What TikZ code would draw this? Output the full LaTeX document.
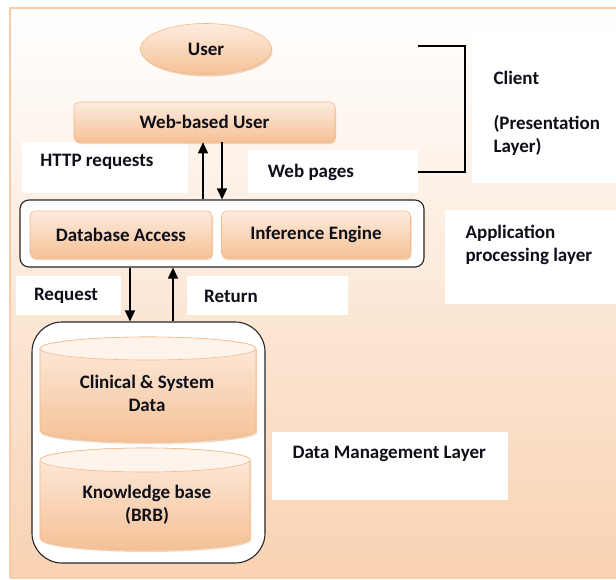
\documentclass[tikz,border=0pt]{standalone}
\usepackage{fontspec}
\setmainfont{Carlito}
\usetikzlibrary{shadows,arrows.meta,shapes.geometric}
\definecolor{peach}{RGB}{249,210,178}
\definecolor{frameor}{RGB}{250,205,170}
\definecolor{boxtop}{RGB}{253,236,223}
\definecolor{boxbot}{RGB}{245,193,150}
\definecolor{boxline}{RGB}{240,185,140}
\definecolor{txt}{RGB}{15,15,25}
\tikzset{
  lbl/.style={font=\fontsize{19}{23}\selectfont\bfseries, text=txt},
  whitebox/.style={fill=white, draw=none},
  obox/.style={rounded corners=5pt, draw=boxline, line width=0.6pt, top color=boxtop, bottom color=boxbot,
     drop shadow={shadow xshift=1pt, shadow yshift=-2pt, fill=boxbot!75!brown, opacity=0.55},
     lbl, inner sep=0pt},
  layerbox/.style={draw=black!85, line width=1.1pt, fill=white},
  arr/.style={-{Triangle[length=11pt,width=10pt]}, line width=1.3pt, black},
}
\begin{document}
\begin{tikzpicture}[x=1pt,y=-1pt]
\useasboundingbox (0,0) rectangle (616,579);
% background
\shade[top color=white, bottom color=peach] (10,8) rectangle (618,578);
\draw[frameor, line width=1.5pt] (10,578) -- (10,8) -- (618,8);
\draw[frameor, line width=1.5pt] (10,578) -- (618,578);

% white label boxes
\node[whitebox, minimum width=166pt, minimum height=51pt] (httpbox) at (105,167.5) {};
\node[whitebox, minimum width=170pt, minimum height=43pt] (wpbox) at (333,171.5) {};
\node[whitebox, minimum width=146pt, minimum height=155pt] (clbox) at (545,105.5) {};
\node[whitebox, minimum width=173pt, minimum height=94pt] (apbox) at (531.5,257) {};
\node[whitebox, minimum width=105pt, minimum height=39pt] (reqbox) at (68.5,295.5) {};
\node[whitebox, minimum width=161pt, minimum height=39pt] (retbox) at (267.5,295.5) {};
\node[whitebox, minimum width=236pt, minimum height=68pt] (dmbox) at (390,466) {};

% labels
\node[lbl] (http) at (97,162) {HTTP requests};
\node[lbl] (wp) at (311,172) {Web pages};
\node[lbl, anchor=west] (client) at (490,78) {Client};
\node[lbl, anchor=west, align=left] (pres) at (490,135) {(Presentation\\Layer)};
\node[lbl, anchor=west, align=left] (appl) at (462,245) {Application\\processing layer};
\node[lbl] (req) at (66,296) {Request};
\node[lbl] (ret) at (231,296) {Return};
\node[lbl, anchor=west] (dml) at (289,454) {Data Management Layer};

% bracket
\coordinate (bt) at (418,46);
\coordinate (bb) at (418,172);
\draw[black, line width=1.1pt] (bt) -- (465,46) -- (465,172) -- (bb);

% user
\node[ellipse, draw=boxline, line width=0.6pt, top color=boxtop, bottom color=boxbot, minimum width=131pt, minimum height=51pt, lbl,
  drop shadow={shadow xshift=1pt, shadow yshift=-2pt, fill=boxbot!75!brown, opacity=0.55}] (user) at (206,49) {User};

% web-based user
\node[obox, minimum width=261pt, minimum height=40pt] (web) at (204.5,122) {Web-based User};

% application layer
\node[layerbox, rounded corners=9pt, minimum width=404pt, minimum height=67pt] (app) at (222,233.5) {};
\node[obox, minimum width=182pt, minimum height=47pt] (db) at (121,234.5) {Database Access};
\node[obox, minimum width=189pt, minimum height=47pt] (ie) at (316,234.5) {Inference Engine};

% data layer
\node[layerbox, rounded corners=30pt, minimum width=233pt, minimum height=241pt] (data) at (148.5,442.5) {};

% cylinders
\shade[top color=boxtop, bottom color=boxbot, draw=boxline, line width=0.6pt,
  drop shadow={shadow xshift=1pt, shadow yshift=-2pt, fill=boxbot!75!brown, opacity=0.55}]
  (40,348.5) -- (40,430.5) arc[start angle=180,end angle=0,x radius=108,y radius=11.5]
  -- (256,348.5) arc[start angle=0,end angle=-180,x radius=108,y radius=11.5] -- cycle;
\draw[boxline, line width=0.6pt, fill=boxtop!60!white] (148,348.5) ellipse[x radius=108, y radius=11.5];
\node[lbl, align=center] (cyl1) at (147,393.5) {Clinical \& System\\Data};

\shade[top color=boxtop, bottom color=boxbot, draw=boxline, line width=0.6pt,
  drop shadow={shadow xshift=1pt, shadow yshift=-2pt, fill=boxbot!75!brown, opacity=0.55}]
  (40,460) -- (40,538) arc[start angle=180,end angle=0,x radius=105,y radius=12]
  -- (250,460) arc[start angle=0,end angle=-180,x radius=105,y radius=12] -- cycle;
\draw[boxline, line width=0.6pt, fill=boxtop!60!white] (145,460) ellipse[x radius=105, y radius=12];
\node[lbl, align=center] (cyl2) at (147,505) {Knowledge base\\(BRB)};

% arrows
\draw[arr] (app.north -| 203,0) -- (web.south -| 203,0);
\draw[arr] (web.south -| 222,0) -- (app.north -| 222,0);
\draw[arr] (app.south -| 130,0) -- (data.north -| 130,0);
\draw[arr] (data.north -| 173,0) -- (app.south -| 173,0);
\end{tikzpicture}
\end{document}
